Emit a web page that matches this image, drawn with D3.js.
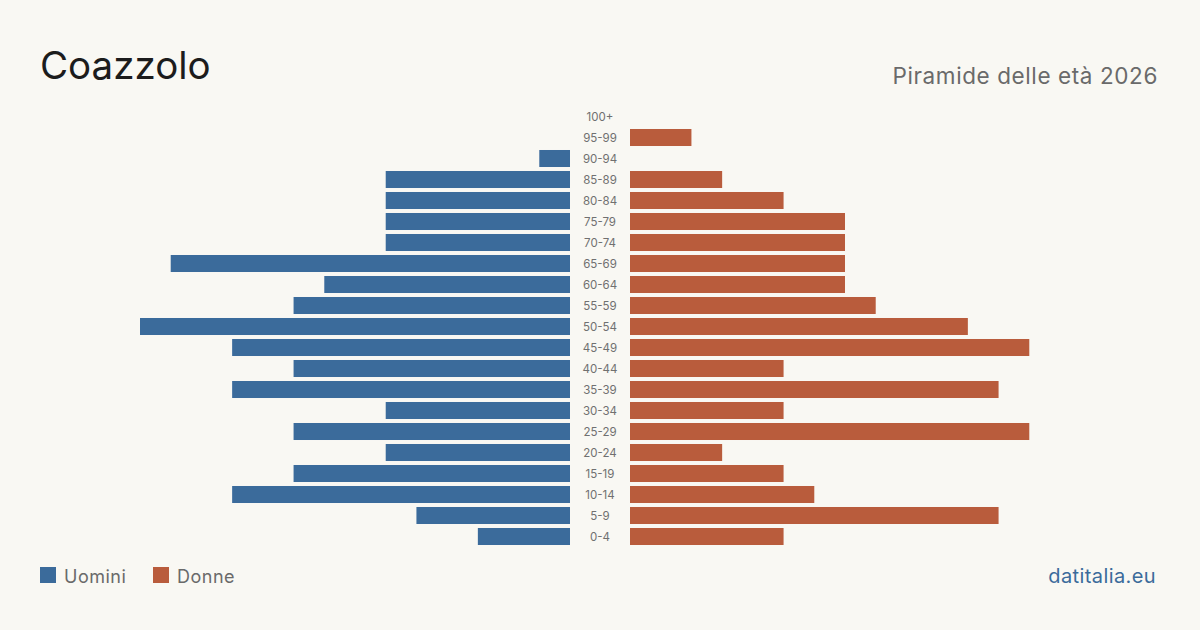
<!DOCTYPE html>
<html>
<head>
<meta charset="utf-8">
<script src="https://cdn.jsdelivr.net/npm/d3@7/dist/d3.min.js"></script>
<style>
  html, body { margin: 0; padding: 0; background: #f9f8f3; }
  svg { display: block; font-family: Inter, "Noto Sans", sans-serif; }
</style>
</head>
<body>
<svg id="chart" width="1200" height="630"></svg>
<script>
// age classes, top to bottom
const ages = ['100+', '95-99', '90-94', '85-89', '80-84', '75-79', '70-74', '65-69', '60-64',
  '55-59', '50-54', '45-49', '40-44', '35-39', '30-34', '25-29', '20-24', '15-19', '10-14', '5-9', '0-4'];
const men =   [0, 0, 1, 6, 6, 6, 6, 13, 8, 9, 14, 11, 9, 11, 6, 9, 6, 9, 11, 5, 3];
const women = [0, 2, 0, 3, 5, 7, 7, 7, 7, 8, 11, 13, 5, 12, 5, 13, 3, 5, 6, 12, 5];

const BLUE = '#3b6b9b';
const RED = '#b95c3c';

const svg = d3.select('#chart');
svg.append('rect').attr('width', 1200).attr('height', 630).attr('fill', '#f9f8f3');

const rows = ages.map((a, i) => ({ age: a, m: men[i], f: women[i] }));

const y = d3.scaleBand().domain(ages).range([106, 547]).paddingInner(0.19).paddingOuter(0.095);
const maxV = d3.max([...men, ...women]);
const xL = d3.scaleLinear().domain([0, maxV]).range([570, 140]);
const xR = d3.scaleLinear().domain([0, maxV]).range([630, 1060]);

svg.append('g').selectAll('rect')
  .data(rows.filter(d => d.m > 0))
  .join('rect')
  .attr('x', d => xL(d.m))
  .attr('y', d => y(d.age))
  .attr('width', d => xL(0) - xL(d.m))
  .attr('height', y.bandwidth())
  .attr('fill', BLUE);

svg.append('g').selectAll('rect')
  .data(rows.filter(d => d.f > 0))
  .join('rect')
  .attr('x', xR(0))
  .attr('y', d => y(d.age))
  .attr('width', d => xR(d.f) - xR(0))
  .attr('height', y.bandwidth())
  .attr('fill', RED);

svg.append('g').selectAll('text')
  .data(ages)
  .join('text')
  .attr('x', 600)
  .attr('y', d => y(d) + y.bandwidth() / 2)
  .attr('dy', '0.35em')
  .attr('text-anchor', 'middle')
  .attr('font-size', 11.5)
  .attr('fill', '#707070')
  .text(d => d);

// titles
svg.append('text').attr('x', 40).attr('y', 79)
  .attr('font-size', 38.5).attr('fill', '#1c1c1c').text('Coazzolo');
svg.append('text').attr('x', 1158).attr('y', 84).attr('text-anchor', 'end')
  .attr('font-size', 22.5).attr('letter-spacing', 0.6)
  .attr('fill', '#6a6a6a').text('Piramide delle età 2026');

// legend
const legend = [{ label: 'Uomini', color: BLUE, x: 40 }, { label: 'Donne', color: RED, x: 153 }];
const lg = svg.append('g').selectAll('g').data(legend).join('g')
  .attr('transform', d => `translate(${d.x},567)`);
lg.append('rect').attr('width', 16).attr('height', 16).attr('fill', d => d.color);
lg.append('text').attr('x', 24).attr('y', 15.5)
  .attr('font-size', 18).attr('letter-spacing', 0.5)
  .attr('fill', '#6a6a6a').text(d => d.label);

svg.append('text').attr('x', 1156).attr('y', 583).attr('text-anchor', 'end')
  .attr('font-size', 20).attr('letter-spacing', 0.4)
  .attr('fill', '#3b6b9b').text('datitalia.eu');
</script>
</body>
</html>
